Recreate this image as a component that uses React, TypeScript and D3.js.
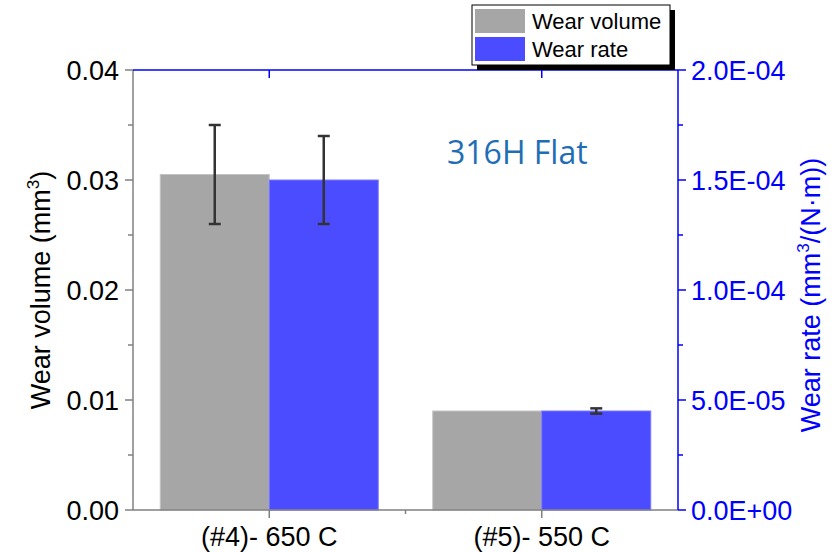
import { useEffect, useRef } from 'react';
import * as d3 from 'd3';

const categories = ['(#4)- 650 C', '(#5)- 550 C'];
const wearVolume = [0.0305, 0.009];
const wearVolumeErr = [0.0045, 0];
const wearRate = [1.5e-4, 4.5e-5];
const wearRateErr = [2.0e-5, 1.2e-6];
const leftTicks = [0, 0.01, 0.02, 0.03, 0.04];
const rightTicks = [0, 5e-5, 1e-4, 1.5e-4, 2e-4];
const rightTickLabels = ['0.0E+00', '5.0E-05', '1.0E-04', '1.5E-04', '2.0E-04'];

const App = () => {
  const svgRef = useRef<SVGSVGElement>(null);

  useEffect(() => {
    const W = 840, H = 553;
    const margin = { top: 70, right: 162, bottom: 43, left: 133 };
    const width = W - margin.left - margin.right;
    const height = H - margin.top - margin.bottom;
    const font = 'Liberation Sans, Arial, sans-serif';
    const fs = 27;
    const blueAxis = '#0000ff';
    const grayAxis = '#808080';

    const root = d3.select(svgRef.current);
    root.selectAll('*').remove();
    root.attr('width', W).attr('height', H);
    const svg = root.append('g').attr('transform', `translate(${margin.left},${margin.top})`);

    const x = d3.scaleBand().domain(categories).range([0, width]).padding(0);
    const inner = d3.scaleBand().domain(['vol', 'rate']).range([0, x.bandwidth()]).paddingOuter(0.25).paddingInner(0);
    const yL = d3.scaleLinear().domain([0, 0.04]).range([height, 0]);
    const yR = d3.scaleLinear().domain([0, 2e-4]).range([height, 0]);

    // bars
    categories.forEach((c, i) => {
      const x0 = x(c)!;
      svg.append('rect')
        .attr('x', x0 + inner('vol')!)
        .attr('y', yL(wearVolume[i]))
        .attr('width', inner.bandwidth())
        .attr('height', height - yL(wearVolume[i]))
        .attr('fill', '#a6a6a6')
        .attr('stroke', '#c4c4c4')
        .attr('stroke-width', 1);
      svg.append('rect')
        .attr('x', x0 + inner('rate')!)
        .attr('y', yR(wearRate[i]))
        .attr('width', inner.bandwidth())
        .attr('height', height - yR(wearRate[i]))
        .attr('fill', '#4b4bff')
        .attr('stroke', '#7a7aff')
        .attr('stroke-width', 1);
    });

    // error bars
    const errBar = (cx: number, yTop: number, yBot: number) => {
      const g = svg.append('g').attr('stroke', '#333').attr('stroke-width', 2.5);
      g.append('line').attr('x1', cx).attr('x2', cx).attr('y1', yTop).attr('y2', yBot);
      g.append('line').attr('x1', cx - 6).attr('x2', cx + 6).attr('y1', yTop).attr('y2', yTop);
      g.append('line').attr('x1', cx - 6).attr('x2', cx + 6).attr('y1', yBot).attr('y2', yBot);
    };
    categories.forEach((c, i) => {
      const x0 = x(c)!;
      if (wearVolumeErr[i] > 0) {
        const cx = x0 + inner('vol')! + inner.bandwidth() / 2;
        errBar(cx, yL(wearVolume[i] + wearVolumeErr[i]), yL(wearVolume[i] - wearVolumeErr[i]));
      }
      if (wearRateErr[i] > 0) {
        const cx = x0 + inner('rate')! + inner.bandwidth() / 2;
        errBar(cx, yR(wearRate[i] + wearRateErr[i]), yR(wearRate[i] - wearRateErr[i]));
      }
    });

    // left axis
    const minorL = d3.range(0.005, 0.04, 0.01);
    const gL = svg.append('g');
    gL.append('line').attr('x1', 0).attr('x2', 0).attr('y1', 0).attr('y2', height).attr('stroke', grayAxis).attr('stroke-width', 1.5);
    leftTicks.forEach(t => {
      gL.append('line').attr('x1', -8).attr('x2', 0).attr('y1', yL(t)).attr('y2', yL(t)).attr('stroke', grayAxis).attr('stroke-width', 1.5);
      gL.append('text').attr('x', -14).attr('y', yL(t)).attr('dy', '0.36em').attr('text-anchor', 'end')
        .attr('font-family', font).attr('font-size', fs).attr('fill', '#000').text(d3.format('.2f')(t));
    });
    minorL.forEach(t => {
      gL.append('line').attr('x1', -5).attr('x2', 0).attr('y1', yL(t)).attr('y2', yL(t)).attr('stroke', grayAxis).attr('stroke-width', 1.5);
    });

    // bottom axis
    const gB = svg.append('g').attr('transform', `translate(0,${height})`);
    gB.append('line').attr('x1', 0).attr('x2', width).attr('stroke', grayAxis).attr('stroke-width', 1.5);
    categories.forEach(c => {
      const cx = x(c)! + x.bandwidth() / 2;
      gB.append('line').attr('x1', cx).attr('x2', cx).attr('y1', 0).attr('y2', 8).attr('stroke', grayAxis).attr('stroke-width', 1.5);
      gB.append('text').attr('x', cx).attr('y', 36).attr('text-anchor', 'middle')
        .attr('font-family', font).attr('font-size', fs).attr('fill', '#000').text(c);
    });
    gB.append('line').attr('x1', x.bandwidth()).attr('x2', x.bandwidth()).attr('y1', 0).attr('y2', 4).attr('stroke', grayAxis).attr('stroke-width', 1.5);

    // top axis
    const gT = svg.append('g');
    gT.append('line').attr('x1', 0).attr('x2', width).attr('stroke', blueAxis).attr('stroke-width', 1.5);
    categories.forEach(c => {
      const cx = x(c)! + x.bandwidth() / 2;
      gT.append('line').attr('x1', cx).attr('x2', cx).attr('y1', 0).attr('y2', 8).attr('stroke', blueAxis).attr('stroke-width', 1.5);
    });

    // right axis
    const minorR = d3.range(2.5e-5, 2e-4, 5e-5);
    const gR = svg.append('g').attr('transform', `translate(${width},0)`);
    gR.append('line').attr('y1', 0).attr('y2', height).attr('stroke', blueAxis).attr('stroke-width', 1.5);
    rightTicks.forEach((t, i) => {
      gR.append('line').attr('x1', 0).attr('x2', 8).attr('y1', yR(t)).attr('y2', yR(t)).attr('stroke', blueAxis).attr('stroke-width', 1.5);
      gR.append('text').attr('x', 13).attr('y', yR(t)).attr('dy', '0.36em')
        .attr('font-family', font).attr('font-size', fs).attr('fill', blueAxis).text(rightTickLabels[i]);
    });
    minorR.forEach(t => {
      gR.append('line').attr('x1', 0).attr('x2', 5).attr('y1', yR(t)).attr('y2', yR(t)).attr('stroke', blueAxis).attr('stroke-width', 1.5);
    });

    // axis titles
    const tL = root.append('text').attr('transform', `translate(50,${margin.top + height / 2}) rotate(-90)`)
      .attr('text-anchor', 'middle').attr('font-family', font).attr('font-size', fs).attr('fill', '#000');
    tL.append('tspan').text('Wear volume (mm');
    tL.append('tspan').attr('font-size', 17).attr('dy', -11).text('3');
    tL.append('tspan').attr('dy', 11).text(')');

    const tR = root.append('text').attr('transform', `translate(820,${margin.top + height / 2 + 5}) rotate(-90)`)
      .attr('text-anchor', 'middle').attr('font-family', font).attr('font-size', fs).attr('fill', blueAxis);
    tR.append('tspan').text('Wear rate (mm');
    tR.append('tspan').attr('font-size', 17).attr('dy', -11).text('3');
    tR.append('tspan').attr('dy', 11).text('/(N\u00b7m))');

    // annotation
    root.append('text').attr('x', 447).attr('y', 164).attr('font-family', 'Open Sans, sans-serif')
      .attr('font-size', 32).attr('fill', '#1f6eb5').text('316H Flat');

    // legend
    const lg = root.append('g').attr('transform', 'translate(472,5)');
    lg.append('rect').attr('x', 5).attr('y', 5).attr('width', 198).attr('height', 60).attr('fill', '#000');
    lg.append('rect').attr('x', 0).attr('y', 0).attr('width', 198).attr('height', 60).attr('fill', '#fff').attr('stroke', '#000').attr('stroke-width', 1);
    const items = [{ label: 'Wear volume', color: '#a6a6a6' }, { label: 'Wear rate', color: '#4b4bff' }];
    items.forEach((it, i) => {
      lg.append('rect').attr('x', 3).attr('y', 4 + i * 28).attr('width', 50).attr('height', 24).attr('fill', it.color);
      lg.append('text').attr('x', 60).attr('y', 16 + i * 28).attr('dy', '0.36em').attr('font-family', font)
        .attr('font-size', 22).attr('fill', '#000').text(it.label);
    });
  }, []);

  return <svg ref={svgRef} style={{ display: 'block', position: 'absolute', left: 0, top: 0 }}></svg>;
};

export default App;
